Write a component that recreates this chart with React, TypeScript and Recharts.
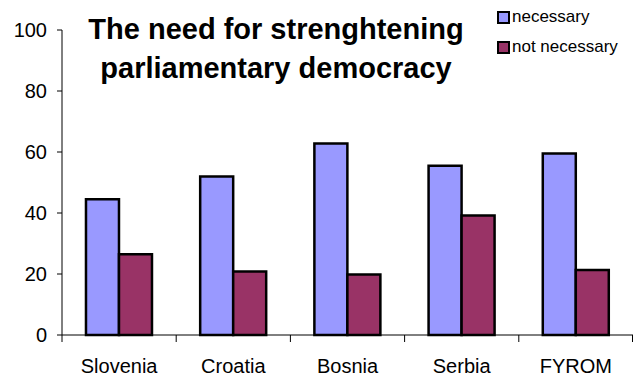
import React from 'react';
import { BarChart, Bar, XAxis, YAxis } from 'recharts';

const countries = ['Slovenia', 'Croatia', 'Bosnia', 'Serbia', 'FYROM'];
const necessary = [44.5, 52, 62.8, 55.5, 59.5];
const notNecessary = [26.5, 20.8, 19.8, 39.2, 21.3];
const yTicks = [0, 20, 40, 60, 80, 100];
const seriesNames = ['necessary', 'not necessary'];
const seriesColors = ['#9999FF', '#993366'];

const data = countries.map((c, i) => ({
  country: c,
  necessary: necessary[i],
  notNecessary: notNecessary[i],
}));

const FONT = '"Liberation Sans", Arial, sans-serif';
const WIDTH = 633;
const HEIGHT = 378;
const LEFT = 62;
const BAND = (WIDTH - LEFT) / countries.length;

const CategoryTick = (props: any) => {
  const { x, y, payload, index } = props;
  const left = x - BAND / 2;
  return (
    <g>
      <line x1={left} y1={y - 8} x2={left} y2={y - 1} stroke="#000" strokeWidth={1} />
      {index === countries.length - 1 && (
        <line x1={left + BAND - 0.5} y1={y - 8} x2={left + BAND - 0.5} y2={y - 1} stroke="#000" strokeWidth={1} />
      )}
      <text x={x} y={y + 30} textAnchor="middle" fontFamily={FONT} fontSize={20} fill="#000">
        {payload.value}
      </text>
    </g>
  );
};

export default function App() {
  return (
    <div style={{ position: 'absolute', left: 0, top: 0, width: WIDTH, height: HEIGHT, background: '#fff' }}>
      <BarChart
        width={WIDTH}
        height={HEIGHT}
        data={data}
        margin={{ top: 30, right: 0, left: 0, bottom: 0 }}
        barCategoryGap="21%"
        barGap={0}
      >
        <XAxis
          dataKey="country"
          axisLine={{ stroke: '#000', strokeWidth: 1 }}
          tickLine={false}
          tick={<CategoryTick />}
          height={43}
          interval={0}
        />
        <YAxis
          width={LEFT}
          domain={[0, 100]}
          ticks={yTicks}
          axisLine={{ stroke: '#000', strokeWidth: 1 }}
          tickLine={{ stroke: '#000' }}
          tickSize={5}
          tickMargin={10}
          tick={{ fill: '#000', fontFamily: FONT, fontSize: 20 }}
        />
        <Bar dataKey="necessary" name={seriesNames[0]} fill={seriesColors[0]} stroke="#000" strokeWidth={2.5} isAnimationActive={false} />
        <Bar dataKey="notNecessary" name={seriesNames[1]} fill={seriesColors[1]} stroke="#000" strokeWidth={2.5} isAnimationActive={false} />
      </BarChart>
      <div
        style={{
          position: 'absolute',
          left: 76,
          top: 10,
          width: 400,
          textAlign: 'center',
          fontFamily: FONT,
          fontWeight: 'bold',
          fontSize: 29,
          lineHeight: '39px',
          color: '#000',
        }}
      >
        The need for strenghtening
        <br />
        parliamentary democracy
      </div>
      <div style={{ position: 'absolute', left: 497, top: 7, fontFamily: FONT, fontSize: 17, color: '#000', lineHeight: '20px' }}>
        {seriesNames.map((name, i) => (
          <div key={name} style={{ display: 'flex', alignItems: 'center', marginBottom: i === 0 ? 10 : 0 }}>
            <span
              style={{
                display: 'inline-block',
                width: 9,
                height: 9,
                background: seriesColors[i],
                border: '2px solid #000',
                marginRight: 2,
              }}
            />
            {name}
          </div>
        ))}
      </div>
    </div>
  );
}
